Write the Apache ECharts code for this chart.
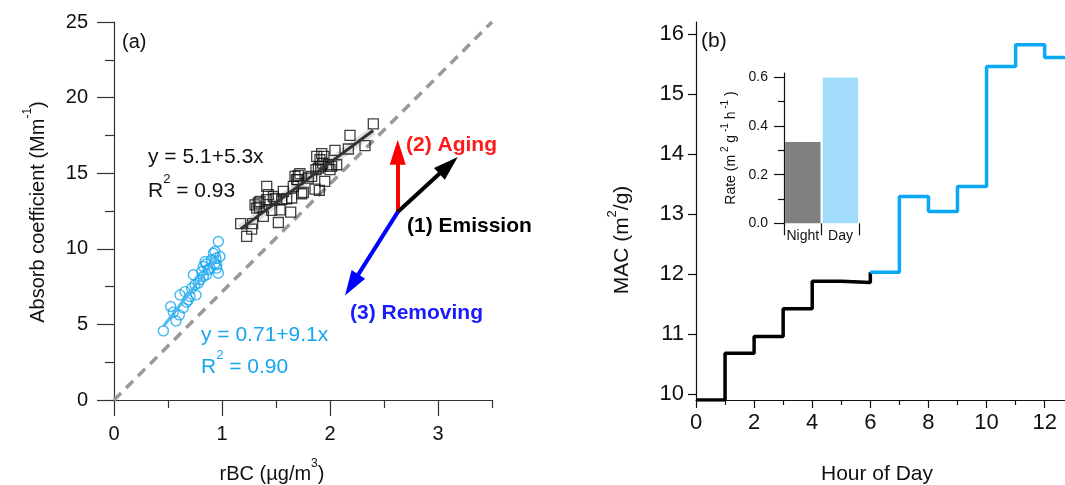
<!DOCTYPE html>
<html><head><meta charset="utf-8">
<script src="https://cdn.jsdelivr.net/npm/echarts@6/dist/echarts.min.js"></script>
<style>html,body{margin:0;padding:0;background:#fff}#c{width:1065px;height:485px}</style>
</head><body><div id="c"></div>
<script>
// ---------- Panel (a) data ----------
const agedBC = [1.173,1.228,1.275,1.284,1.336,1.321,1.352,1.383,1.414,1.414,1.460,1.475,1.522,1.537,1.553,1.568,1.599,1.636,1.645,1.660,1.691,1.707,1.722,1.738,1.753,1.799,1.830,1.861,1.892,1.901,1.907,1.923,1.932,1.944,1.951,2.000,2.015,2.046,2.062,2.170,2.185,2.324,2.401,1.306,1.346,1.429,1.491,1.676,1.703,1.870,1.914,1.877,1.985];
const agedAbs = [11.66,10.82,11.30,11.66,13.03,12.69,13.13,12.14,14.13,13.25,12.54,13.46,11.74,12.58,13.25,13.80,13.31,12.43,13.36,14.13,14.57,14.86,14.97,13.64,13.73,14.68,14.79,13.95,15.34,13.86,15.89,16.29,15.67,16.11,14.46,15.23,15.45,16.51,15.56,16.60,17.50,16.82,18.26,12.91,12.76,13.58,13.31,14.79,14.57,15.23,15.45,16.11,15.56];
const freshBC = [0.457,0.525,0.574,0.549,0.611,0.642,0.673,0.704,0.719,0.735,0.759,0.781,0.796,0.812,0.827,0.843,0.858,0.852,0.889,0.904,0.920,0.935,0.951,0.966,0.966,0.944,0.981,0.688,0.605,0.657,0.750,0.827,0.873,0.935,0.951];
const freshAbs = [4.57,6.18,5.23,5.81,6.95,6.11,6.47,6.84,7.40,8.28,6.95,7.73,7.95,8.50,8.83,9.16,8.28,8.99,8.72,9.27,9.71,9.82,8.72,8.39,10.48,9.38,9.49,6.62,5.63,7.17,7.62,8.17,8.61,9.05,8.94];
const agedFit = {a: 5.1, b: 5.3, xFrom: 1.173, xTo: 2.40};
const freshFit = {a: 0.71, b: 9.1, xFrom: 0.457, xTo: 0.98};
const refLine = [[0, 0], [3.5, 25]];
const arrowOrigin = [2.627, 12.43];
const arrowAging = [2.627, 16.39];
const arrowEmission = [3.098, 15.52];
const arrowRemoving = [2.201, 7.61];
const aXTicks = [0, 1, 2, 3];
const aXMinor = [0.5, 1.5, 2.5, 3.5];
const aYTicks = [0, 5, 10, 15, 20, 25];
const aYMinor = [2.5, 7.5, 12.5, 17.5, 22.5];

// ---------- Panel (b) data ----------
const nightHours = [0, 1, 2, 3, 4, 5, 6];
const nightMAC = [9.9, 10.68, 10.96, 11.42, 11.88, 11.86, 12.03];
const dayHours = [6, 7, 8, 9, 10, 11, 12, 13];
const dayMAC = [12.03, 13.29, 13.04, 13.46, 15.46, 15.82, 15.61, 15.61];
const bXTicks = [0, 2, 4, 6, 8, 10, 12];
const bXMinor = [1, 3, 5, 7, 9, 11];
const bYTicks = [10, 11, 12, 13, 14, 15, 16];
const rateCats = ['Night', 'Day'];
const rateVals = [0.334, 0.60];
const rateTicks = [0, 0.2, 0.4, 0.6];
const rateMinor = [0.1, 0.3, 0.5];

const FONT = 'Liberation Sans, Arial, sans-serif';
const BLUE = '#17a5ee';
const zip = (xs, ys) => xs.map((x, i) => [x, ys[i]]);
const fitPts = f => [[f.xFrom, f.a + f.b * f.xFrom], [f.xTo, f.a + f.b * f.xTo]];

const chart = echarts.init(document.getElementById('c'), null, {renderer: 'canvas'});

function vAxis(o) {
  const base = {
    type: 'value', splitLine: {show: false},
    axisLine: {show: true, onZero: false, lineStyle: {color: o.lineColor || '#333', width: 1.2}},
    axisTick: {show: true, length: o.tickLen, inside: false, customValues: o.ticks, lineStyle: {color: o.lineColor || '#333', width: 1.2}},
    axisLabel: o.labels ? {show: true, customValues: o.ticks, margin: o.margin, fontSize: o.fontSize, color: '#111', fontFamily: FONT, formatter: o.fmt} : {show: false}
  };
  if (o.noLine) base.axisLine.show = false;
  return Object.assign(base, {gridIndex: o.grid, min: o.min, max: o.max, position: o.pos, offset: 0});
}

const arrowLine = (to, color) => [{coord: arrowOrigin, lineStyle: {color: color}}, {coord: to}];

const option = {
  animation: false,
  backgroundColor: '#fff',
  textStyle: {fontFamily: FONT},
  grid: [
    {left: 114, top: 22, width: 378, height: 378},
    {left: 696, top: 22, width: 369, height: 378},
    {left: 784, top: 73, width: 75.3, height: 150.3, z: 5}
  ],
  xAxis: [
    vAxis({grid: 0, min: 0, max: 3.5, pos: 'bottom', ticks: aXTicks, tickLen: 16, labels: true, margin: 24, fontSize: 20}),
    vAxis({grid: 0, min: 0, max: 3.5, pos: 'bottom', ticks: aXMinor, tickLen: 8, noLine: true}),
    vAxis({grid: 1, min: 0, max: 12.7, pos: 'bottom', ticks: bXTicks, tickLen: 8, labels: true, margin: 12, fontSize: 22, lineColor: '#111'}),
    vAxis({grid: 1, min: 0, max: 12.7, pos: 'bottom', ticks: bXMinor, tickLen: 5, noLine: true, lineColor: '#111'}),
    {type: 'category', gridIndex: 2, data: rateCats, position: 'bottom',
     axisLine: {show: false}, axisTick: {show: true, length: 12, interval: 0, lineStyle: {color: '#111', width: 1.2}},
     axisLabel: {margin: 6, fontSize: 14, color: '#111', fontFamily: FONT, interval: 0, hideOverlap: false}}
  ],
  yAxis: [
    vAxis({grid: 0, min: 0, max: 25, pos: 'left', ticks: aYTicks, tickLen: 17, labels: true, margin: 26, fontSize: 20}),
    vAxis({grid: 0, min: 0, max: 25, pos: 'left', ticks: aYMinor, tickLen: 9, noLine: true}),
    vAxis({grid: 1, min: 9.9, max: 16.2, pos: 'left', ticks: bYTicks, tickLen: 8, labels: true, margin: 12, fontSize: 22, lineColor: '#111'}),
    vAxis({grid: 2, min: 0, max: 0.618, pos: 'left', ticks: rateTicks, tickLen: 10, labels: true, margin: 16, fontSize: 14, lineColor: '#111', fmt: v => v.toFixed(1)}),
    vAxis({grid: 2, min: 0, max: 0.618, pos: 'left', ticks: rateMinor, tickLen: 6, noLine: true, lineColor: '#111'})
  ],
  series: [
    {type: 'line', xAxisIndex: 0, yAxisIndex: 0, data: refLine, symbol: 'none', silent: true, z: 1,
     lineStyle: {color: '#999', width: 3.5, type: [10, 7]}},
    {type: 'scatter', xAxisIndex: 0, yAxisIndex: 0, data: zip(agedBC, agedAbs), symbol: 'rect', symbolSize: 10, z: 2,
     itemStyle: {color: 'rgba(0,0,0,0)', borderColor: '#111', borderWidth: 1.3}},
    {type: 'scatter', xAxisIndex: 0, yAxisIndex: 0, data: zip(freshBC, freshAbs), symbol: 'circle', symbolSize: 10, z: 2,
     itemStyle: {color: 'rgba(0,0,0,0)', borderColor: BLUE, borderWidth: 1.4}},
    {type: 'line', xAxisIndex: 0, yAxisIndex: 0, data: fitPts(agedFit), symbol: 'none', z: 3,
     lineStyle: {color: 'rgba(0,0,0,0.12)', width: 9}},
    {type: 'line', xAxisIndex: 0, yAxisIndex: 0, data: fitPts(agedFit), symbol: 'none', z: 4,
     lineStyle: {color: '#333', width: 3}},
    {type: 'line', xAxisIndex: 0, yAxisIndex: 0, data: fitPts(freshFit), symbol: 'none', z: 4,
     lineStyle: {color: '#4cb8f2', width: 3}},
    {type: 'line', xAxisIndex: 0, yAxisIndex: 0, data: [], z: 6,
     markLine: {silent: true, symbol: ['none', 'triangle'], symbolSize: [16, 25], label: {show: false},
       lineStyle: {type: 'solid', width: 4, opacity: 1},
       emphasis: {disabled: true},
       data: [arrowLine(arrowAging, '#ff0000'), arrowLine(arrowEmission, '#000000'), arrowLine(arrowRemoving, '#0000ff')]}},
    {type: 'line', step: 'end', xAxisIndex: 2, yAxisIndex: 2, data: zip(nightHours, nightMAC), symbol: 'none', z: 3,
     lineStyle: {color: '#000', width: 3.5}},
    {type: 'line', step: 'end', xAxisIndex: 2, yAxisIndex: 2, data: zip(dayHours, dayMAC), symbol: 'none', z: 3,
     lineStyle: {color: '#0aa8f5', width: 3.5}},
    {type: 'bar', xAxisIndex: 4, yAxisIndex: 3, barCategoryGap: '6%', z: 5,
     data: [{value: rateVals[0], itemStyle: {color: '#808080'}}, {value: rateVals[1], itemStyle: {color: '#a3dcfb'}}]}
  ],
  graphic: [
    {type: 'text', left: 122, top: 32, style: {text: '(a)', font: '20px ' + FONT, fill: '#111'}},
    {type: 'text', left: 701, top: 31, style: {text: '(b)', font: '21px ' + FONT, fill: '#111'}},
    {type: 'text', x: 148, y: 157, style: {text: 'y = 5.1+5.3x', font: '21px ' + FONT, fill: '#111', textVerticalAlign: 'middle'}},
    {type: 'text', x: 148, y: 191, style: {text: '{n|R}{s|2}{n| = 0.93}', textVerticalAlign: 'middle', fill: '#111',
      rich: {n: {fontSize: 21, fontFamily: FONT, lineHeight: 36, fill: '#111'}, s: {fontSize: 13, fontFamily: FONT, verticalAlign: 'top', fill: '#111'}}}},
    {type: 'text', x: 201, y: 335, style: {text: 'y = 0.71+9.1x', font: '21px ' + FONT, fill: BLUE, textVerticalAlign: 'middle'}},
    {type: 'text', x: 201, y: 367, style: {text: '{n|R}{s|2}{n| = 0.90}', textVerticalAlign: 'middle', fill: BLUE,
      rich: {n: {fontSize: 21, fontFamily: FONT, lineHeight: 36, fill: BLUE}, s: {fontSize: 13, fontFamily: FONT, verticalAlign: 'top', fill: BLUE}}}},
    {type: 'text', x: 406, y: 145, style: {text: '(2) Aging', font: 'bold 21px ' + FONT, fill: '#ff1a1a', textVerticalAlign: 'middle'}},
    {type: 'text', x: 407, y: 226, style: {text: '(1) Emission', font: 'bold 21px ' + FONT, fill: '#000', textVerticalAlign: 'middle'}},
    {type: 'text', x: 350, y: 313, style: {text: '(3) Removing', font: 'bold 21px ' + FONT, fill: '#1a1aff', textVerticalAlign: 'middle'}},
    {type: 'text', x: 38, y: 212, rotation: Math.PI / 2, style: {text: '{n|Absorb coefficient (Mm}{s|-1}{n|)}', textAlign: 'center', textVerticalAlign: 'middle',
      rich: {n: {fontSize: 20, fontFamily: FONT, lineHeight: 32, fill: '#111'}, s: {fontSize: 12, fontFamily: FONT, verticalAlign: 'top', fill: '#111'}}}},
    {type: 'text', x: 272, y: 474, style: {text: '{n|rBC (µg/m}{s|3}{n|)}', textAlign: 'center', textVerticalAlign: 'middle',
      rich: {n: {fontSize: 20, fontFamily: FONT, lineHeight: 32, fill: '#111'}, s: {fontSize: 12, fontFamily: FONT, verticalAlign: 'top', fill: '#111'}}}},
    {type: 'text', x: 622, y: 240, rotation: Math.PI / 2, style: {text: '{n|MAC (m}{s|2}{n|/g)}', textAlign: 'center', textVerticalAlign: 'middle',
      rich: {n: {fontSize: 21, fontFamily: FONT, lineHeight: 32, fill: '#111'}, s: {fontSize: 13, fontFamily: FONT, verticalAlign: 'top', fill: '#111'}}}},
    {type: 'text', x: 877, y: 474, style: {text: 'Hour of Day', font: '21px ' + FONT, fill: '#111', textAlign: 'center', textVerticalAlign: 'middle'}},
    {type: 'text', x: 731, y: 148, rotation: Math.PI / 2, style: {text: '{n|Rate (m}{s| 2}{n| g}{s| -1}{n| h}{s| -1}{n| )}', textAlign: 'center', textVerticalAlign: 'middle',
      rich: {n: {fontSize: 14, fontFamily: FONT, lineHeight: 22, fill: '#111'}, s: {fontSize: 10, fontFamily: FONT, verticalAlign: 'top', fill: '#111'}}}}
  ]
};
chart.setOption(option);
</script></body></html>
